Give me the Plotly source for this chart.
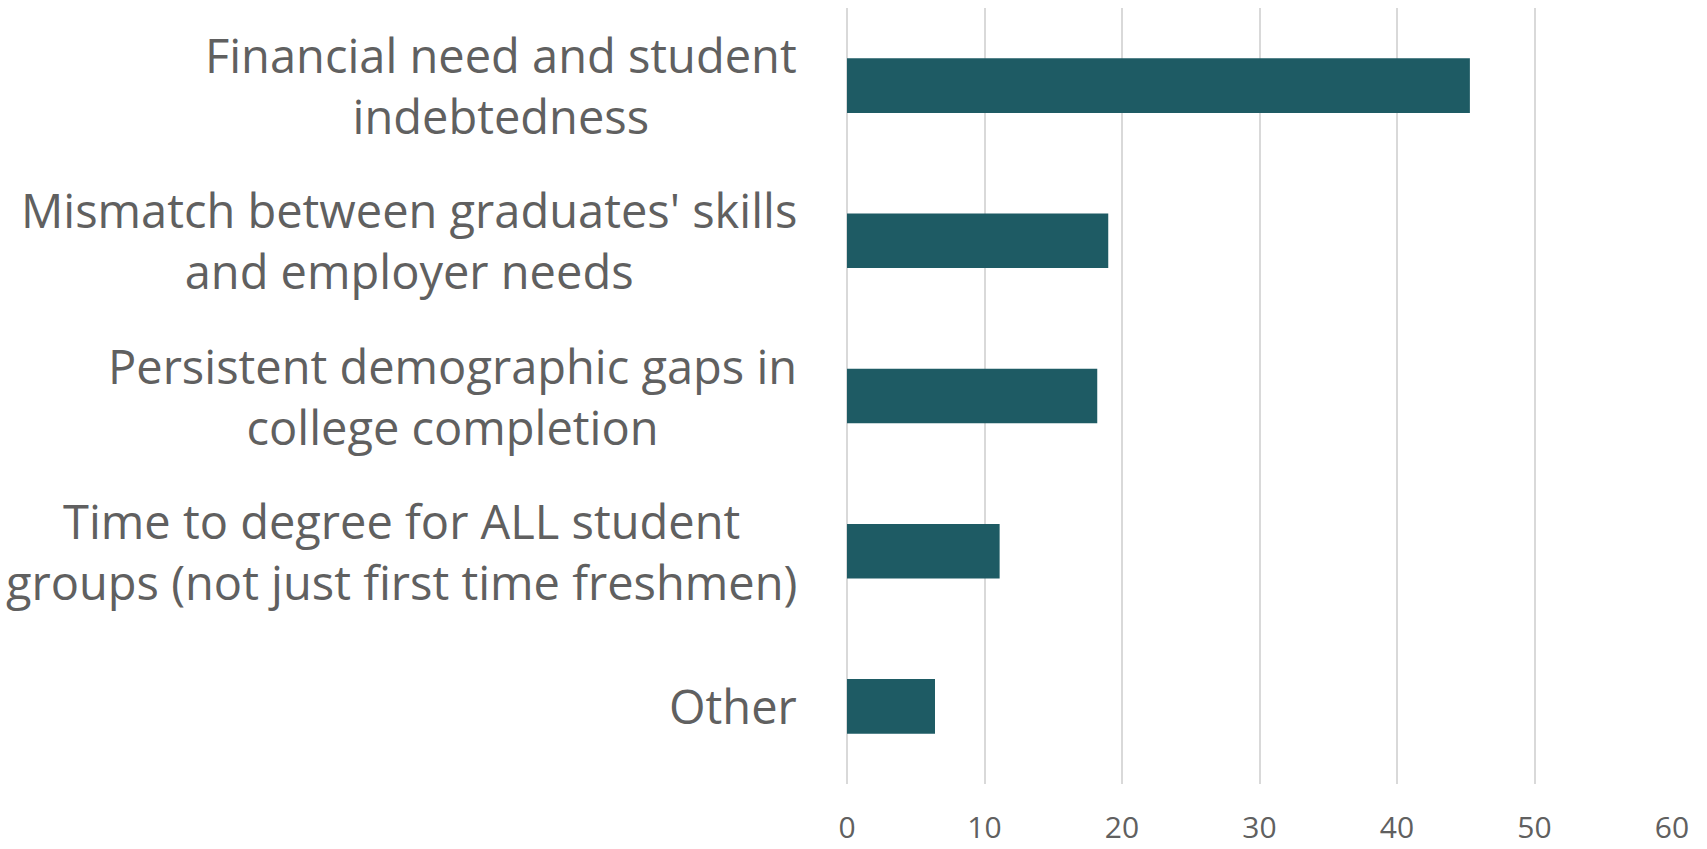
import plotly.graph_objects as go

# Survey responses: top concern (percent of respondents)
categories = [
    "Financial need and student<br>indebtedness",
    "Mismatch between graduates' skills<br>and employer needs",
    "Persistent demographic gaps in<br>college completion",
    "Time to degree for ALL student<br>groups (not just first time freshmen)",
    "Other",
]
values = [45.3, 19.0, 18.2, 11.1, 6.4]
x_ticks = [0, 10, 20, 30, 40, 50, 60]

BAR_COLOR = "#1E5B64"
TEXT_COLOR = "#606060"
GRID_COLOR = "#D9D9D9"
FONT = "Open Sans, sans-serif"

fig = go.Figure(
    go.Bar(
        x=values,
        y=list(range(len(categories))),
        orientation="h",
        marker=dict(color=BAR_COLOR, line=dict(width=0)),
        hoverinfo="skip",
    )
)

# Category labels: centered multi-line blocks, right-aligned against the plot
for i, label in enumerate(categories):
    fig.add_annotation(
        x=0, xref="paper", y=i, yref="y",
        text=label, showarrow=False,
        xanchor="right", yanchor="middle", align="center",
        xshift=-48,
        font=dict(family=FONT, size=47, color=TEXT_COLOR),
    )

fig.update_layout(
    width=1707, height=849,
    margin=dict(l=847, r=35, t=8, b=65),
    paper_bgcolor="white", plot_bgcolor="white",
    bargap=0.648,
    showlegend=False,
    font=dict(family=FONT, color=TEXT_COLOR),
)
fig.update_xaxes(
    range=[0, 60], tickvals=x_ticks, ticktext=[str(v) for v in x_ticks],
    showgrid=True, gridcolor=GRID_COLOR, gridwidth=2,
    zeroline=True, zerolinecolor=GRID_COLOR, zerolinewidth=2,
    showline=False, ticks="", ticklabelstandoff=23, automargin=False,
    tickfont=dict(family=FONT, size=30, color=TEXT_COLOR),
)
fig.update_yaxes(
    range=[len(categories) - 0.5, -0.5], automargin=False,
    showticklabels=False, showgrid=False, zeroline=False, showline=False,
)

fig.write_html("out.html")
